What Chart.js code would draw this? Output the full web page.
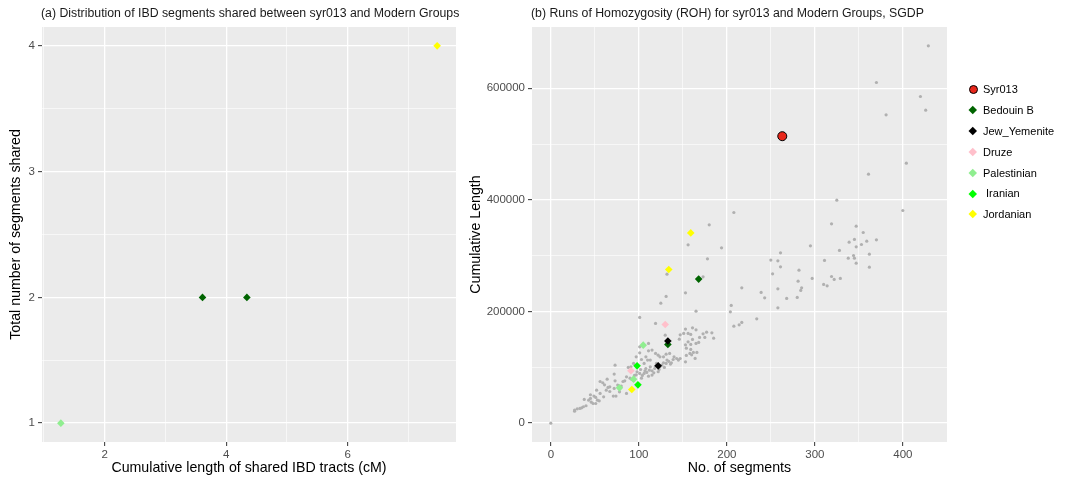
<!DOCTYPE html>
<html>
<head>
<meta charset="utf-8">
<script src="https://cdn.jsdelivr.net/npm/chart.js@4.4.1/dist/chart.umd.min.js"></script>
<style>
  body { margin: 0; background: #fff; width: 1066px; height: 479px; overflow: hidden; position: relative;
         font-family: "Liberation Sans", Arial, sans-serif; }
  canvas { position: absolute; top: 0; }
  #ibd { left: 0; }
  #roh { left: 460px; }
  #legend { position: absolute; left: 966px; top: 79px; }
  .item { height: 20.8px; display: flex; align-items: center; font-size: 11px; color: #000; white-space: pre; }
  .sym { width: 14px; display: flex; justify-content: center; align-items: center; }
  .sym span { display: block; }
</style>
</head>
<body>
<canvas id="ibd" width="460" height="479"></canvas>
<canvas id="roh" width="606" height="479"></canvas>
<div id="legend"></div>
<script>
/* ==== groups ==== */
const groupNames  = ["Syr013", "Bedouin B", "Jew_Yemenite", "Druze", "Palestinian", " Iranian", "Jordanian"];
const groupColors = ["#e8271b", "#006400", "#000000", "#ffc0cb", "#90ee90", "#00ff00", "#ffff00"];

/* ==== (a) IBD: [cumulative cM, no. of segments] ==== */
const ibdPalestinian = [[1.28, 1]];
const ibdBedouin     = [[3.61, 2], [4.34, 2]];
const ibdJordanian   = [[7.47, 4]];
const ibdXTicks = [2, 4, 6], ibdXMinor = [1, 3, 5, 7];
const ibdYTicks = [1, 2, 3, 4], ibdYMinor = [1.5, 2.5, 3.5];

/* ==== (b) ROH: [no. of segments, cumulative length] ==== */
const rohSyr013      = [[263, 514000]];
const rohBedouin     = [[168, 258000], [133, 141000]];
const rohJewYemenite = [[133, 147000], [122, 102600]];
const rohDruze       = [[130, 176800], [91, 93700]];
const rohPalestinian = [[105, 139700], [78, 63200], [94, 78800]];
const rohIranian     = [[98, 102600], [99, 68600]];
const rohJordanian   = [[159, 340800], [134, 275300], [92, 60300]];
// SGDP individuals (background)
const rohSgdp = [
  [429,675800],[370,610200],[420,585100],[426,560600],[381,552200],[404,465700],[361,446000],
  [325,399400],[400,380900],[208,377300],[180,355200],[319,357000],[347,352800],[355,341500],
  [339,324200],[345,329000],[359,326000],[353,320000],[347,315800],[370,328300],
  [156,319400],[194,314000],[295,317600],[328,309300],[362,302700],
  [338,295500],[345,295500],[344,300300],[261,305000],[347,286600],[362,279400],[311,291400],
  [250,292000],[258,290700],[261,280000],[252,267400],[282,274000],[178,294300],[132,266900],[173,262000],
  [281,254300],[297,259200],[319,262700],[329,259200],[322,257400],[310,248400],[314,246000],
  [217,242400],[285,242400],[258,240600],
  [284,237700],[239,234100],[243,224400],[268,223300],[280,225100],[258,206500],[205,210800],[204,199400],
  [234,186800],[208,173700],[214,176100],[217,180400],
  [153,233400],[131,226900],[125,214900],[165,200600],[101,189300],
  [119,178600],[130,157600],
  [153,168400],[161,170700],[165,167100],[156,160700],[151,160700],[147,158100],[146,150400],[159,158900],
  [173,159900],[177,163000],[183,161700],[169,153500],[175,153500],[185,152200],[161,149900],[156,145600],
  [153,140200],[159,141000],[154,134300],[159,132000],[165,142700],[168,144500],[162,126600],[166,126600],
  [160,122300],[164,115900],[158,124800],[154,121300],[153,109800],
  [27,23300],[30,25700],[33,26300],[35,27500],[37,29300],[40,31100],[38,42400],[43,41200],[45,44200],
  [46,37600],[48,35200],[45,50800],[49,48400],[51,46000],[53,41200],[55,40000],[56,74600],[59,72300],
  [61,68700],[63,59100],[65,63900],[67,56700],[71,48400],[72,62100],[73,75800],[76,68100],[80,66300],
  [82,74600],[84,75800],[86,83000],[90,80600],[92,78200],[94,77000],[95,85400],[97,86600],[98,92000],
  [101,89000],[102,96100],[103,80600],[104,85400],[106,89000],[107,93800],[108,97900],[109,90800],
  [111,84200],[112,94900],[113,100900],[115,93800],[115,86000],[117,90200],[118,97900],[119,102100],
  [120,106900],[122,92000],[123,96100],[124,100900],[126,103900],[128,108100],[129,99700],[131,106900],
  [132,112900],[134,110500],[136,105700],[137,108100],[139,114000],[140,118800],[143,115800],[145,112900],
  [147,115800],[101,126000],[103,114000],[106,106900],[110,112900],[113,112900],[111,129600],[115,130800],
  [119,124800],[122,121800],[108,118800],[124,118800],[128,118800],[131,123600],[135,124800],[111,142700],
  [101,136700],[97,118800],[94,106900],[88,99700],[78,56100],[74,48400],[60,47200],[56,53200],[67,65100],
  [72,87800],[86,53200],[91,100900],[51,35200],
  [0,0],[73,103900],[64,78800],[52,59100],[27,21500]
];
const rohXTicks = [0, 100, 200, 300, 400], rohXMinor = [50, 150, 250, 350];
const rohYTicks = [0, 200000, 400000, 600000], rohYMinor = [100000, 300000, 500000];

Chart.defaults.font.family = '"Liberation Sans", Arial, sans-serif';

const toXY = pts => pts.map(p => ({ x: p[0], y: p[1] }));

// grey panel + panel title, ggplot style
const panelBg = {
  id: 'panelBg',
  beforeDraw(chart, args, opts) {
    const { ctx, chartArea: a } = chart;
    ctx.save();
    ctx.fillStyle = '#ebebeb';
    ctx.fillRect(a.left, a.top, a.width, a.height);
    ctx.fillStyle = '#1a1a1a';
    ctx.font = '12.3px "Liberation Sans", Arial, sans-serif';
    ctx.textBaseline = 'middle';
    ctx.fillText(opts.text, a.left - 1, 14);
    ctx.restore();
  }
};

function axis(pos, min, max, major, minor, title, fit) {
  const isMajor = v => major.includes(v);
  return {
    type: 'linear', position: pos, min, max,
    afterBuildTicks: s => { s.ticks = major.concat(minor).sort((a, b) => a - b).map(v => ({ value: v })); },
    afterFit: s => { if (pos === 'left') s.width = fit; else s.height = fit; },
    border: { display: false },
    grid: {
      color: '#ffffff',
      lineWidth: c => (c.tick && isMajor(c.tick.value)) ? 1.3 : 0.6,
      tickColor: c => (c.tick && isMajor(c.tick.value)) ? '#333333' : 'rgba(0,0,0,0)',
      tickLength: 4, tickWidth: 1
    },
    ticks: {
      autoSkip: false, maxRotation: 0, color: '#4d4d4d', font: { size: 11.5 },
      padding: pos === 'left' ? 3 : 2,
      callback: v => isMajor(v) ? String(v) : ''
    },
    title: {
      display: true, text: title, color: '#000', font: { size: 14.2 },
      padding: pos === 'left' ? { top: 8, bottom: 0 } : { top: 0, bottom: 2 }
    }
  };
}

function diamonds(label, pts, color) {
  return { label, data: toXY(pts), pointStyle: 'rectRot', pointRadius: 3.8, pointBorderWidth: 0,
           backgroundColor: color, borderColor: color };
}

const baseOpts = { responsive: false, animation: false, devicePixelRatio: 1,
  plugins: { legend: { display: false }, tooltip: { enabled: false } } };

/* ==== (a) ==== */
new Chart(document.getElementById('ibd'), {
  type: 'scatter',
  data: { datasets: [
    diamonds('Jordanian', ibdJordanian, groupColors[6]),
    diamonds('Palestinian', ibdPalestinian, groupColors[4]),
    diamonds('Bedouin B', ibdBedouin, groupColors[1])
  ] },
  options: Object.assign({}, baseOpts, {
    layout: { padding: { top: 27, right: 3, left: 0, bottom: 0 } },
    plugins: Object.assign({}, baseOpts.plugins, { panelBg: { text: '(a) Distribution of IBD segments shared between syr013 and Modern Groups' } }),
    scales: {
      x: axis('bottom', 0.97, 7.78, ibdXTicks, ibdXMinor, 'Cumulative length of shared IBD tracts (cM)', 37),
      y: axis('left', 0.85, 4.15, ibdYTicks, ibdYMinor, 'Total number of segments shared', 42)
    }
  }),
  plugins: [panelBg]
});

/* ==== (b) ==== */
// first dataset is painted last, so the grey background goes at the end
new Chart(document.getElementById('roh'), {
  type: 'scatter',
  data: { datasets: [
    diamonds('Jordanian', rohJordanian, groupColors[6]),
    diamonds('Iranian', rohIranian, groupColors[5]),
    diamonds('Palestinian', rohPalestinian, groupColors[4]),
    diamonds('Druze', rohDruze, groupColors[3]),
    diamonds('Jew_Yemenite', rohJewYemenite, groupColors[2]),
    diamonds('Bedouin B', rohBedouin, groupColors[1]),
    { label: 'Syr013', data: toXY(rohSyr013), pointStyle: 'circle', pointRadius: 4.5, pointBorderWidth: 1,
      backgroundColor: groupColors[0], borderColor: '#000' },
    { label: 'SGDP', data: toXY(rohSgdp), pointRadius: 1.6, pointBorderWidth: 0,
      backgroundColor: '#b0b0b0', borderColor: '#b0b0b0' }
  ] },
  options: Object.assign({}, baseOpts, {
    layout: { padding: { top: 27, right: 119, left: 0, bottom: 0 } },
    plugins: Object.assign({}, baseOpts.plugins, { panelBg: { text: '(b) Runs of Homozygosity (ROH) for syr013 and Modern Groups, SGDP' } }),
    scales: {
      x: axis('bottom', -21.4, 450.2, rohXTicks, rohXMinor, 'No. of segments', 37),
      y: axis('left', -33800, 709600, rohYTicks, rohYMinor, 'Cumulative Length', 72)
    }
  }),
  plugins: [panelBg]
});

/* ==== legend ==== */
const legend = document.getElementById('legend');
groupNames.forEach((name, i) => {
  const row = document.createElement('div');
  row.className = 'item';
  const sym = i === 0
    ? `<span style="width:7px;height:7px;border-radius:50%;background:${groupColors[i]};border:1px solid #000"></span>`
    : `<span style="width:5.5px;height:5.5px;transform:rotate(45deg);background:${groupColors[i]}"></span>`;
  row.innerHTML = `<div class="sym">${sym}</div><span style="margin-left:3px">${name}</span>`;
  legend.appendChild(row);
});
</script>
</body>
</html>
